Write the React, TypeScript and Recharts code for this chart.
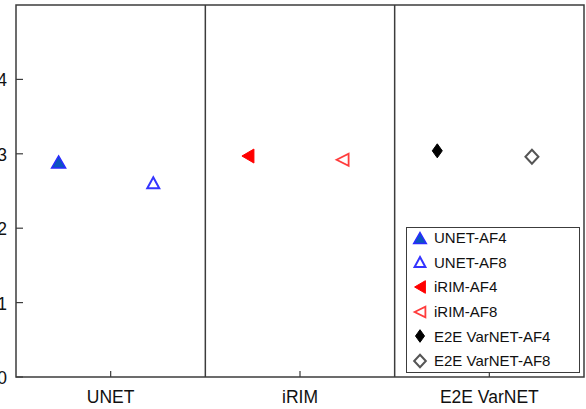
import React from 'react';
import { ScatterChart, Scatter, XAxis, YAxis, ReferenceArea, ReferenceLine, Legend } from 'recharts';

const categories = ['UNET', 'iRIM', 'E2E VarNET'];
const af4Values = [2.89, 2.97, 3.04];
const af8Values = [2.61, 2.92, 2.96];
const yTicks = [0, 1, 2, 3, 4];
const seriesNames = ['UNET-AF4', 'UNET-AF8', 'iRIM-AF4', 'iRIM-AF8', 'E2E VarNET-AF4', 'E2E VarNET-AF8'];

const FONT = '"Liberation Sans", Arial, sans-serif';
const LINE = '#3c3c3c';

type MarkerKind = 'triUpFill' | 'triUpOpen' | 'triLeftFill' | 'triLeftOpen' | 'diaFill' | 'diaOpen';
const markerKinds: MarkerKind[] = ['triUpFill', 'triUpOpen', 'triLeftFill', 'triLeftOpen', 'diaFill', 'diaOpen'];
const markerColors = ['#1a4fd6', '#3434ff', '#ff0000', '#ff3c3c', '#000000', '#555555'];

function markerPath(kind: MarkerKind, cx: number, cy: number, s = 1): { d: string; fill: string; strokeWidth: number } {
  const p = (pts: number[][]) => 'M' + pts.map(([x, y]) => `${cx + x * s},${cy + y * s}`).join('L') + 'Z';
  switch (kind) {
    case 'triUpFill':
      return { d: p([[0, -6], [7, 6], [-7, 6]]), fill: 'fill', strokeWidth: 1.5 };
    case 'triUpOpen':
      return { d: p([[0, -5.5], [6, 5.5], [-6, 5.5]]), fill: 'none', strokeWidth: 2 };
    case 'triLeftFill':
      return { d: p([[-6, 0], [6, -7], [6, 7]]), fill: 'fill', strokeWidth: 1 };
    case 'triLeftOpen':
      return { d: p([[-6, 0], [6, -6], [6, 6]]), fill: 'none', strokeWidth: 1.8 };
    case 'diaFill':
      return { d: p([[0, -7], [5, 0], [0, 7], [-5, 0]]), fill: 'fill', strokeWidth: 1 };
    default:
      return { d: p([[0, -7], [6.5, 0], [0, 7], [-6.5, 0]]), fill: 'none', strokeWidth: 2 };
  }
}

function Marker({ kind, color, cx, cy, s = 1 }: { kind: MarkerKind; color: string; cx: number; cy: number; s?: number }) {
  const m = markerPath(kind, cx, cy, s);
  const fillColor = kind === 'triUpFill' ? '#0a55c0' : color;
  const strokeColor = kind === 'triUpFill' ? '#2a2aff' : color;
  return (
    <path
      d={m.d}
      fill={m.fill === 'fill' ? fillColor : 'none'}
      stroke={strokeColor}
      strokeWidth={m.strokeWidth}
      strokeLinejoin="miter"
    />
  );
}

const series = seriesNames.map((name, k) => {
  const model = Math.floor(k / 2);
  const isAF4 = k % 2 === 0;
  const offset = isAF4 ? 0.225 : 0.725;
  return {
    name,
    kind: markerKinds[k],
    color: markerColors[k],
    data: [{ x: model + offset, y: isAF4 ? af4Values[model] : af8Values[model] }],
  };
});

const XTick = (props: any) => {
  const { x, y, payload } = props;
  const idx = Math.round(payload.value - 0.5);
  return (
    <g>
      <line x1={x} x2={x} y1={y} y2={y - 6} stroke={LINE} strokeWidth={1.2} />
      <text x={x} y={y + 26} textAnchor="middle" fontFamily={FONT} fontSize={17.5} fill="#111">
        {categories[idx]}
      </text>
    </g>
  );
};

const YTick = (props: any) => {
  const { x, y, payload } = props;
  return (
    <g>
      <line x1={x} x2={x + 7} y1={y} y2={y} stroke={LINE} strokeWidth={1.2} />
      <text x={x - 9} y={y + 7} textAnchor="end" fontFamily={FONT} fontSize={17.5} fill="#111">
        {payload.value}
      </text>
    </g>
  );
};

const LegendBox = () => (
  <div
    style={{
      boxSizing: 'border-box',
      width: 174,
      height: 146,
      border: `1.5px solid ${LINE}`,
      background: '#fff',
      paddingTop: 0,
      fontFamily: FONT,
    }}
  >
    {series.map((s, i) => (
      <div key={s.name} style={{ display: 'flex', alignItems: 'center', height: 24.6, marginTop: i === 0 ? -2.5 : 0 }}>
        <svg width={24} height={24} style={{ marginLeft: 1 }}>
          <Marker kind={s.kind} color={s.color} cx={12} cy={12} s={0.9} />
        </svg>
        <span style={{ fontSize: 15, color: '#111', marginLeft: 2, lineHeight: '15px' }}>{s.name}</span>
      </div>
    ))}
  </div>
);

export default function App() {
  return (
    <div style={{ position: 'absolute', left: 0, top: 0, width: 586, height: 409, background: '#fff' }}>
      <ScatterChart width={586} height={409} margin={{ top: 5, right: 2, left: 0, bottom: 0 }}>
        <XAxis
          type="number"
          dataKey="x"
          domain={[0, 3]}
          ticks={[0.5, 1.5, 2.5]}
          height={32}
          axisLine={false}
          tickLine={false}
          tickSize={0}
          tickMargin={0}
          tick={<XTick />}
          interval={0}
        />
        <YAxis
          type="number"
          dataKey="y"
          domain={[0, 5]}
          ticks={yTicks}
          width={16}
          axisLine={false}
          tickLine={false}
          tickSize={0}
          tickMargin={0}
          tick={<YTick />}
          interval={0}
        />
        <ReferenceArea x1={0} x2={3} y1={0} y2={5} fill="none" stroke={LINE} strokeWidth={1.5} fillOpacity={0} />
        <ReferenceLine x={1} stroke={LINE} strokeWidth={1.5} />
        <ReferenceLine x={2} stroke={LINE} strokeWidth={1.5} />
        {series.map((s) => (
          <Scatter
            key={s.name}
            name={s.name}
            data={s.data}
            fill={s.color}
            isAnimationActive={false}
            shape={(p: any) => <Marker kind={s.kind} color={s.color} cx={p.cx} cy={p.cy} />}
          />
        ))}
        <Legend
          layout="horizontal"
          verticalAlign="middle"
          align="center"
          content={<LegendBox />}
          wrapperStyle={{ left: 406, top: 227, width: 174, height: 146 }}
        />
      </ScatterChart>
    </div>
  );
}
